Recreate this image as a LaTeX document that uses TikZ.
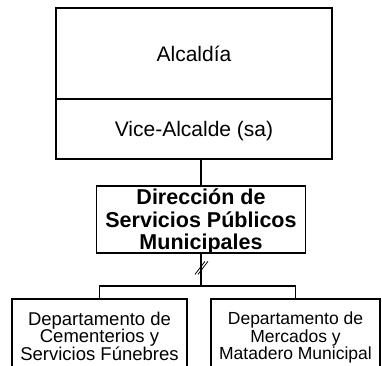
\documentclass[tikz,border=0pt]{standalone}
\usepackage{fontspec}
\setmainfont{Liberation Sans}
\usetikzlibrary{positioning}

\begin{document}
\begin{tikzpicture}[
    x=1pt, y=-1pt,
    box/.style={rectangle, draw, line width=1.1pt, outer sep=0pt, inner sep=0pt, text depth=0pt},
    upper/.style={box, minimum width=276pt, font=\fontsize{21}{22.5}\selectfont},
    dirbox/.style={box, minimum width=209pt, minimum height=67pt, align=center, font=\bfseries\fontsize{21.5}{22.5}\selectfont},
    dept/.style={box, anchor=north, minimum height=74pt, align=center, font=\fontsize{17.5}{17.5}\selectfont},
    link/.style={line width=1.1pt}
]
    \useasboundingbox (0,0) rectangle (382,365);
    \clip (0,0) rectangle (382,365);

    \node[upper, minimum height=91pt] (alc) at (194,53.5) {Alcaldía};
    \node[upper, minimum height=60pt, below=0pt of alc] (vice) {Vice-Alcalde (sa)};
    \node[dirbox, below=27pt of vice, xshift=7pt] (dir) {Dirección de\\Servicios Públicos\\Municipales};

    \node[dept, minimum width=175pt, font=\fontsize{18.5}{17.5}\selectfont] (dep1) at (99.5,299) {Departamento de\\Cementerios y\\Servicios Fúnebres};
    \node[dept, minimum width=169pt] (dep2) at (295.5,299) {Departamento de\\Mercados y\\Matadero Municipal};

    \path (dir.south) ++(0,33) coordinate (bus);
    \path (dir.south) -- (bus) coordinate[pos=0.45] (brk);

    \draw[link] (dir.north) -- (dir.north |- vice.south);
    \draw[link] (dir.south) -- (bus);
    \draw[link] (dep1.north) |- (bus) -| (dep2.north);

    % break marks
    \draw[line width=0.8pt] ([xshift=-6pt,yshift=-6.5pt]brk) -- ++(10pt,13pt);
    \draw[line width=0.8pt] ([xshift=-3pt,yshift=-6.5pt]brk) -- ++(10pt,13pt);
\end{tikzpicture}
\end{document}
